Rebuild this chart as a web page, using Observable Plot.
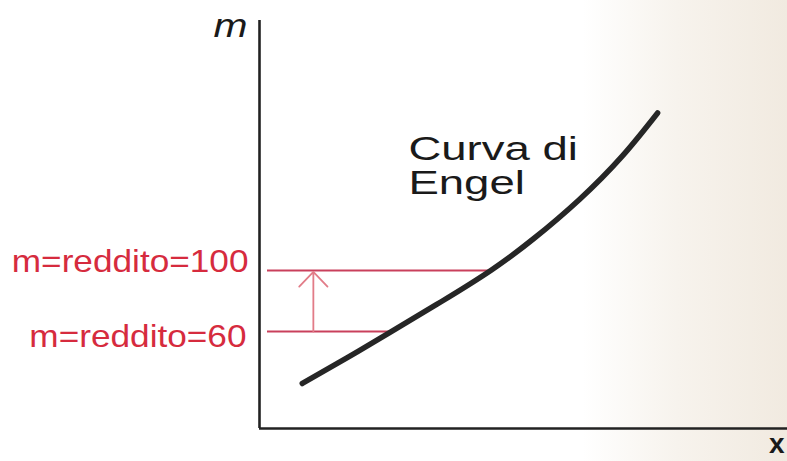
<!DOCTYPE html>
<html>
<head>
<meta charset="utf-8">
<script src="https://cdn.jsdelivr.net/npm/d3@7"></script>
<script src="https://cdn.jsdelivr.net/npm/@observablehq/plot@0.6"></script>
<style>
  html, body { margin: 0; padding: 0; }
  body { width: 787px; height: 461px; overflow: hidden;
    background: linear-gradient(to right, #ffffff 0%, #ffffff 74%, #f7f3ed 86%, #f1eae0 100%); }
  #chart svg { display: block; background: transparent; }
</style>
</head>
<body>
<div id="chart"></div>
<script>
// Engel curve: quantity x (horizontal) vs income m (vertical)
const curveX = [0.81, 1.655, 2.48, 3.44, 4.38, 5.19, 6.06, 6.87, 7.54];
const curveM = [25.9, 42.7, 59.6, 79.5, 100.0, 120.8, 146.6, 175.0, 203.3];

// income levels and where they meet the curve
const incomeLevels = [100, 60];
const levelX = [4.38, 2.48];
const levelLabels = ["m=reddito=100", "m=reddito=60"];

// arrow from old to new income
const arrowX = 1.02;
const arrowFrom = 60;
const arrowTo = 100;

const curveLabel = "Curva di\nEngel";
const curveLabelX = 2.82;
const curveLabelM = 188.5;

const yAxisLabel = "m";
const xAxisLabel = "x";

const xDomain = [0, 10];
const yDomain = [-3.6, 263.9];

const curve = curveX.map((x, i) => ({x, m: curveM[i]}));
const levels = incomeLevels.map((m, i) => ({m, x: levelX[i], label: levelLabels[i]}));

const red = "#d62b3e";
const ruleRed = "#c9405c";
const arrowRed = "#e27c88";
const ink = "#222";
const font = "Liberation Sans, Arial, Helvetica, sans-serif";

const chart = Plot.plot({
  width: 787,
  height: 461,
  marginLeft: 259,
  marginRight: 0,
  marginTop: 20,
  marginBottom: 33,
  style: {background: "transparent", fontFamily: font},
  x: {domain: xDomain, axis: null},
  y: {domain: yDomain, axis: null},
  marks: [
    // axes
    Plot.ruleX([xDomain[0]], {y1: yDomain[0], y2: yDomain[1], stroke: ink, strokeWidth: 2.6}),
    Plot.ruleY([yDomain[0]], {stroke: ink, strokeWidth: 2.6}),
    // income levels
    Plot.ruleY(levels, {y: "m", x1: xDomain[0], x2: "x", insetLeft: 8, stroke: ruleRed, strokeWidth: 1.8}),
    Plot.arrow([{x: arrowX, a: arrowFrom, b: arrowTo}], {
      x1: "x", x2: "x", y1: "a", y2: "b",
      stroke: arrowRed, strokeWidth: 1.8, headLength: 24, headAngle: 88, insetEnd: 1.5
    }),
    // Engel curve
    Plot.line(curve, {x: "x", y: "m", curve: "natural", stroke: "#262626", strokeWidth: 5.5, strokeLinecap: "round"}),
    // labels
    Plot.text([levels[0]], {y: "m", text: "label", frameAnchor: "left", dx: -11, dy: -8.7,
      textAnchor: "end", lineAnchor: "middle", fill: red, fontSize: 32}),
    Plot.text([levels[1]], {y: "m", text: "label", frameAnchor: "left", dx: -13, dy: 5,
      textAnchor: "end", lineAnchor: "middle", fill: red, fontSize: 32}),
    Plot.text([curveLabel], {x: curveLabelX, y: curveLabelM, text: d => d, textAnchor: "start",
      lineAnchor: "top", lineHeight: 1.03, fill: "#1a1a1a", fontSize: 33}),
    Plot.text([yAxisLabel], {text: d => d, frameAnchor: "top-left", dx: -12, dy: 6,
      textAnchor: "end", lineAnchor: "middle", fill: "#1a1a1a", fontSize: 34, fontStyle: "italic"}),
    Plot.text([xAxisLabel], {text: d => d, frameAnchor: "bottom-right", dx: -3, dy: 5,
      textAnchor: "end", lineAnchor: "top", fill: "#1a1a1a", fontSize: 28, fontWeight: "bold"})
  ]
});

// the scanned figure is horizontally stretched: widen glyphs accordingly
const stretch = new Map([
  ["m=reddito=100", 1.1], ["m=reddito=60", 1.1],
  ["Curva di", 1.38], ["Engel", 1.38], ["Curva diEngel", 1.38],
  ["m", 1.2]
]);
chart.querySelectorAll("text").forEach(t => {
  const s = stretch.get(t.textContent);
  if (s) {
    const tr = t.getAttribute("transform") || "";
    t.setAttribute("transform", (tr + ` scale(${s},1)`).trim());
  }
});

document.getElementById("chart").append(chart);
</script>
</body>
</html>
